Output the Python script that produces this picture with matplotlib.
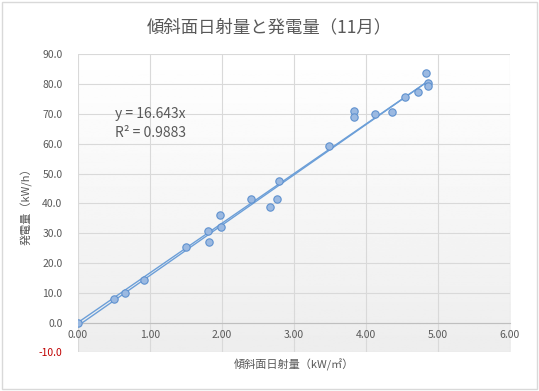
import numpy as np
import matplotlib.pyplot as plt
from matplotlib.patches import Rectangle

plt.rcParams['font.family'] = ['Noto Sans CJK JP', 'DejaVu Sans']

# daily values (November)
radiation = [0.00, 0.51, 0.65, 0.925, 1.50, 1.81, 1.83, 1.98, 1.99, 2.41, 2.67,
             2.77, 2.80, 3.49, 3.84, 3.84, 4.13, 4.37, 4.54, 4.73, 4.84, 4.86, 4.86]
generation = [0.0, 7.85, 9.9, 14.3, 25.3, 30.7, 27.1, 36.0, 32.0, 41.4, 38.7,
              41.5, 47.4, 59.2, 71.0, 68.9, 69.9, 70.7, 75.6, 77.3, 83.7, 80.3, 79.3]

# trendlines: forced through origin (labelled) and free intercept
slope0 = 16.643
slope1, icpt1 = 16.87, -1.1
eq_text = "y = 16.643x"
r2_text = "R² = 0.9883"

title = "傾斜面日射量と発電量（11月）"
xlabel = "傾斜面日射量（kW/㎡）"
ylabel = "発電量（kW/h）"

txt = '#595959'
grid = '#D9D9D9'

fig = plt.figure(figsize=(5.39, 3.91), dpi=100)
ax = fig.add_axes([0.1442, 0.0985, 0.8015, 0.7626])

# light vertical gradient in the plot area
grad = np.linspace(0.93, 1.0, 256).reshape(-1, 1)
ax.imshow(grad, extent=[0, 1, 0, 1], transform=ax.transAxes, aspect='auto',
          cmap='gray', vmin=0, vmax=1, origin='lower', zorder=0)
ax.patch.set_visible(False)

x = np.array(radiation)
xs = np.array([0, x.max()])
ax.plot(xs, slope0 * xs, color='#6C9FD8', lw=1.0, zorder=2)
ax.plot(xs, slope1 * xs + icpt1, color='#6C9FD8', lw=1.0, zorder=2)
ax.scatter(radiation, generation, s=28, facecolor='#9BB9E1', edgecolor='#5F91CF',
           linewidth=0.8, zorder=3)

ax.set_xlim(0, 6)
ax.set_ylim(-10, 90)
ax.set_xticks(np.arange(0, 7, 1))
ax.set_yticks(np.arange(-10, 91, 10))
ax.set_xticklabels(['%.2f' % v for v in np.arange(0, 7, 1)])
ax.set_yticklabels(['%.1f' % v for v in np.arange(-10, 91, 10)])
ax.grid(True, color=grid, lw=0.8, zorder=1)
ax.set_axisbelow(True)

for s in ['top', 'right', 'left']:
    ax.spines[s].set_visible(False)
ax.spines['bottom'].set_position(('data', 0))
ax.spines['bottom'].set_color('#BFBFBF')
ax.tick_params(axis='both', length=0, labelsize=7.5, labelcolor=txt)
ax.tick_params(axis='y', pad=11)
ax.tick_params(axis='x', pad=5)
for lab in ax.get_yticklabels():
    if lab.get_text().startswith('-'):
        lab.set_color('#C00000')

ax.text(0.52, 70.0, eq_text, fontsize=10, color=txt, va='center', ha='left')
ax.text(0.52, 63.6, r2_text, fontsize=10, color=txt, va='center', ha='left')

fig.text(0.5, 0.931, title, fontsize=12.5, color=txt, ha='center', va='center')
fig.text(0.545, 0.067, xlabel, fontsize=8, color=txt, ha='center', va='center')
fig.text(0.05, 0.48, ylabel, fontsize=8, color=txt, ha='center', va='center',
         rotation=90)

fig.add_artist(Rectangle((0.004, 0.005), 0.992, 0.99, transform=fig.transFigure,
                         fill=False, edgecolor='#D9D9D9', lw=1))

fig.savefig('out.png', dpi=100)
